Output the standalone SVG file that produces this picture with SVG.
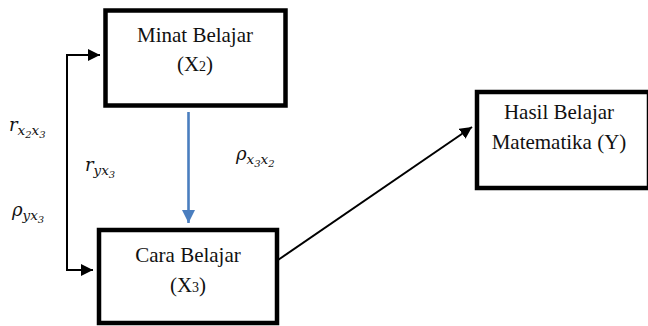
<svg xmlns="http://www.w3.org/2000/svg" width="648" height="326" viewBox="0 0 648 326">
<defs>
<style>
.box{fill:#fff;stroke:#000;stroke-width:4.5}
.t{font-family:"Liberation Serif","Times New Roman",serif;font-size:21px;fill:#111;text-anchor:middle}
.m{font-family:"DejaVu Serif","Liberation Serif",serif;font-style:italic;font-size:18px;fill:#111}
.s{font-size:13.5px}
.ss{font-size:10px}
.k{fill:none;stroke:#000;stroke-width:2}
</style>
<marker id="ah" viewBox="0 0 10 10" refX="10" refY="5" markerWidth="6" markerHeight="6" orient="auto" markerUnits="strokeWidth"><path d="M0,0L10,5L0,10z" fill="#000"/></marker>
<marker id="ahb" viewBox="0 0 10 10" refX="10" refY="5" markerWidth="5" markerHeight="5" orient="auto" markerUnits="strokeWidth"><path d="M0,0L10,5L0,10z" fill="#4a7ebf"/></marker>
</defs>
<g id="connectors">
<path class="k" d="M67,55H100" marker-end="url(#ah)"/>
<path class="k" d="M67,54V270H93" marker-end="url(#ah)"/>
<path d="M188.5,112V223" fill="none" stroke="#4a7ebf" stroke-width="2.6" marker-end="url(#ahb)"/>
<path class="k" d="M278,260L472,127" marker-end="url(#ah)"/>
</g>
<g id="minat">
<rect class="box" x="105.5" y="10.5" width="180" height="95"/>
<text class="t" x="195" y="42">Minat Belajar</text>
<text class="t" x="195" y="71">(X<tspan font-size="14">2</tspan>)</text>
</g>
<g id="cara">
<rect class="box" x="99" y="230" width="178" height="93"/>
<text class="t" x="188" y="262">Cara Belajar</text>
<text class="t" x="188" y="292">(X<tspan font-size="14">3</tspan>)</text>
</g>
<g id="hasil">
<rect class="box" x="477" y="92" width="172" height="96"/>
<text class="t" x="559" y="119">Hasil Belajar</text>
<text class="t" x="559" y="149">Matematika (Y)</text>
</g>
<g id="labels">
<text class="m" x="9" y="131">r<tspan class="s" dy="4">x</tspan><tspan class="ss" dy="3">2</tspan><tspan class="s" dy="-3">x</tspan><tspan class="ss" dy="3">3</tspan></text>
<text class="m" x="85" y="171">r<tspan class="s" dy="4">yx</tspan><tspan class="ss" dy="3">3</tspan></text>
<text class="m" x="12" y="216">ρ<tspan class="s" dy="4">yx</tspan><tspan class="ss" dy="3">3</tspan></text>
<text class="m" x="236" y="160">ρ<tspan class="s" dy="4">x</tspan><tspan class="ss" dy="3">3</tspan><tspan class="s" dy="-3">x</tspan><tspan class="ss" dy="3">2</tspan></text>
</g>
</svg>
